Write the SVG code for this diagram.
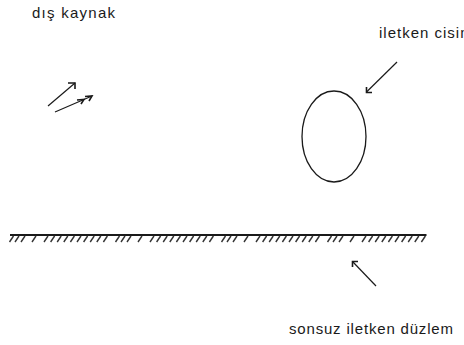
<svg xmlns="http://www.w3.org/2000/svg" width="464" height="345" viewBox="0 0 464 345">
<defs>
<style>
text{font-family:"Liberation Sans",Arial,sans-serif;font-size:15px;fill:#1a1a1a;letter-spacing:1px}
.ln{stroke:#1a1a1a;stroke-width:1.2;fill:none}
.hd{stroke:#1a1a1a;stroke-width:1.6;fill:none;stroke-linejoin:miter}
.h{stroke:#333;stroke-width:1.4}
</style>
<g id="tile">
<line class="h" x1="3.5" y1="236" x2="-0.5" y2="242"/>
<line class="h" x1="9" y1="236" x2="5" y2="242"/>
<line class="h" x1="15" y1="236" x2="11" y2="242"/>
<line class="h" x1="26" y1="236" x2="22" y2="242"/>
<line class="h" x1="38" y1="236" x2="34" y2="242"/>
<line class="h" x1="44.6" y1="236" x2="40.6" y2="242"/>
<line class="h" x1="51.2" y1="236" x2="47.2" y2="242"/>
<line class="h" x1="57.8" y1="236" x2="53.8" y2="242"/>
<line class="h" x1="64.4" y1="236" x2="60.4" y2="242"/>
<line class="h" x1="71" y1="236" x2="67" y2="242"/>
<line class="h" x1="77.6" y1="236" x2="73.6" y2="242"/>
<line class="h" x1="84.2" y1="236" x2="80.2" y2="242"/>
<line class="h" x1="90.8" y1="236" x2="86.8" y2="242"/>
<line class="h" x1="97.4" y1="236" x2="93.4" y2="242"/>
</g>
</defs>
<rect width="464" height="345" fill="#fff"/>

<g id="dis-kaynak">
<text x="32" y="18" textLength="84" lengthAdjust="spacing">dış kaynak</text>
<line class="ln" x1="48" y1="106" x2="75" y2="83"/>
<polyline class="hd" points="68,83 75,83 75,89"/>
<line class="ln" x1="55" y1="112" x2="92" y2="96"/>
<polyline class="hd" points="85,96.5 92,96 89,101"/>
<polyline class="hd" points="77,100 84,99.5 81,104"/>
</g>

<g id="iletken-cisim">
<ellipse cx="334" cy="136.5" rx="32" ry="45.5" fill="none" stroke="#1a1a1a" stroke-width="1.3"/>
<text x="379" y="38">iletken cisim</text>
</g>

<g id="sonsuz-iletken-duzlem">
<line x1="10" y1="235" x2="426.5" y2="235" stroke="#1a1a1a" stroke-width="2"/>
<use href="#tile" x="10"/>
<use href="#tile" x="116"/>
<use href="#tile" x="222"/>
<use href="#tile" x="328"/>
<text x="289" y="334" textLength="165" lengthAdjust="spacing">sonsuz iletken düzlem</text>
</g>

<g id="connectors">
<line class="ln" x1="397" y1="62" x2="366.5" y2="92"/>
<polyline class="hd" points="372,92.5 366.5,92.5 366.5,87"/>
<line class="ln" x1="376" y1="286" x2="352.5" y2="261.5"/>
<polyline class="hd" points="358,261.5 352.5,261.5 352.5,267"/>
</g>
</svg>
